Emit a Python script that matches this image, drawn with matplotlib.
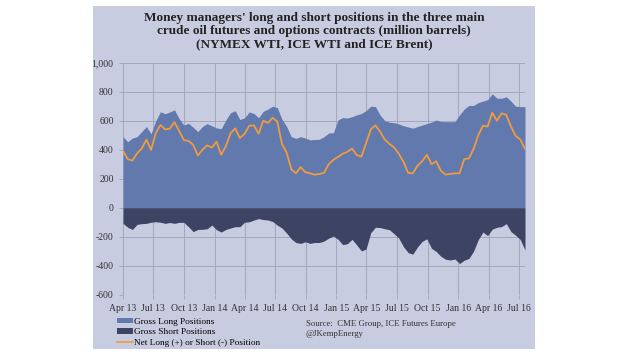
import matplotlib
matplotlib.use('Agg')
import matplotlib.pyplot as plt
from matplotlib.patches import Rectangle, Patch
from matplotlib.lines import Line2D
from matplotlib.ticker import FuncFormatter
import pandas as pd

# fortnightly readings, Apr 2013 - Jul 2016 (million barrels)
dates = pd.date_range('2013-04-02', periods=87, freq='14D')

gross_long = [490, 455, 480, 490, 525, 560, 510, 600, 662, 648,
              660, 675, 615, 570, 582, 555, 525, 560, 580, 565,
              550, 545, 605, 655, 669, 608, 620, 660, 650, 620,
              665, 680, 700, 690, 610, 560, 490, 478, 490, 480,
              468, 470, 472, 490, 515, 517, 605, 622, 618, 628,
              640, 650, 670, 700, 697, 639, 600, 590, 586, 578,
              565, 557, 548, 560, 570, 580, 590, 605, 595, 593,
              593, 593, 640, 680, 705, 705, 725, 735, 745, 785,
              755, 755, 765, 735, 700, 697, 697]

gross_short = [-108, -135, -150, -115, -110, -108, -100, -97, -100, -108,
               -102, -108, -101, -101, -131, -165, -150, -149, -145, -120,
               -152, -168, -150, -140, -131, -131, -100, -97, -85, -75,
               -82, -85, -95, -120, -140, -175, -215, -240, -246, -235,
               -246, -240, -240, -230, -210, -195, -218, -255, -248, -218,
               -257, -298, -285, -172, -135, -137, -145, -152, -180, -210,
               -269, -310, -320, -270, -232, -215, -280, -302, -335, -355,
               -361, -354, -385, -362, -350, -300, -220, -168, -192, -148,
               -135, -130, -110, -165, -190, -220, -292]

net_position = [391, 335, 325, 375, 408, 470, 398, 515, 570, 540,
                545, 590, 530, 467, 460, 435, 360, 400, 430, 415,
                455, 365, 425, 513, 547, 480, 510, 565, 568, 510,
                600, 585, 620, 595, 440, 380, 265, 237, 280, 245,
                237, 228, 232, 240, 300, 330, 350, 372, 385, 408,
                363, 352, 445, 540, 568, 524, 470, 440, 415, 372,
                317, 240, 237, 290, 320, 365, 300, 320, 255, 228,
                233, 237, 237, 335, 340, 405, 500, 565, 560, 655,
                600, 651, 640, 560, 495, 470, 405]

quarter_labels = ['Apr 13', 'Jul 13', 'Oct 13', 'Jan 14', 'Apr 14', 'Jul 14', 'Oct 14',
                  'Jan 15', 'Apr 15', 'Jul 15', 'Oct 15', 'Jan 16', 'Apr 16', 'Jul 16']

title = ("Money managers' long and short positions in the three main\n"
         "crude oil futures and options contracts (million barrels)\n"
         "(NYMEX WTI, ICE WTI and ICE Brent)")

bg = '#c7cce0'
long_col = '#6279ad'
short_col = '#3c4363'
net_col = '#f09b3e'
grid_col = '#9ea2b6'

plt.rcParams['font.family'] = ['Liberation Serif', 'DejaVu Serif']

fig = plt.figure(figsize=(6.2, 3.55), dpi=100)
fig.patch.set_facecolor('white')
fig.patches.append(Rectangle((93/620, 1 - 349/355), 442/620, 343/355,
                             transform=fig.transFigure, facecolor=bg,
                             edgecolor='none', zorder=-5))

ax = fig.add_axes([122.7/620, 1 - 294.7/355, (525 - 122.7)/620, (294.7 - 62.7)/355])
ax.set_facecolor('none')

ax.fill_between(dates, 0, gross_long, color=long_col, lw=0, zorder=2)
ax.fill_between(dates, gross_short, 0, color=short_col, lw=0, zorder=2)
ax.plot(dates, net_position, color=net_col, lw=1.3, zorder=3)

ax.set_ylim(-600, 1000)
ax.set_yticks(range(-600, 1001, 200))
ax.yaxis.set_major_formatter(FuncFormatter(lambda v, p: f'{int(v):,}'))
ax.set_xlim(pd.Timestamp('2013-04-01'), dates[-1])
qticks = pd.date_range('2013-04-01', periods=len(quarter_labels), freq='QS')
ax.set_xticks(qticks)
ax.set_xticklabels(quarter_labels)

ax.grid(True, color=grid_col, lw=0.6, zorder=1)
ax.set_axisbelow(True)
for s in ax.spines.values():
    s.set_visible(False)
ax.tick_params(axis='both', labelsize=7, colors=grid_col, labelcolor='#333333',
               length=3, width=0.6)
ax.tick_params(axis='x', pad=4)

fig.text(314/620, 1 - 31/355, title, ha='center', va='center', fontsize=9.55,
         fontweight='bold', color='#222222', linespacing=1.15)

handles = [Patch(facecolor=long_col, edgecolor='none'),
           Patch(facecolor=short_col, edgecolor='none'),
           Line2D([0], [0], color=net_col, lw=1.2)]
labels = ['Gross Long Positions', 'Gross Short Positions', 'Net Long (+) or Short (-) Position']
fig.legend(handles, labels, loc='upper left', bbox_to_anchor=(117/620, 1 - 318/355),
           frameon=False, fontsize=6.7, handlelength=1.7, handleheight=0.5,
           handletextpad=0.1, labelspacing=0.25, borderaxespad=0, borderpad=0)

fig.text(306/620, 1 - 329/355, 'Source:  CME Group, ICE Futures Europe\n@JKempEnergy',
         ha='left', va='center', fontsize=6.3, color='#333333', linespacing=1.3)

plt.savefig('out.png', dpi=100)
